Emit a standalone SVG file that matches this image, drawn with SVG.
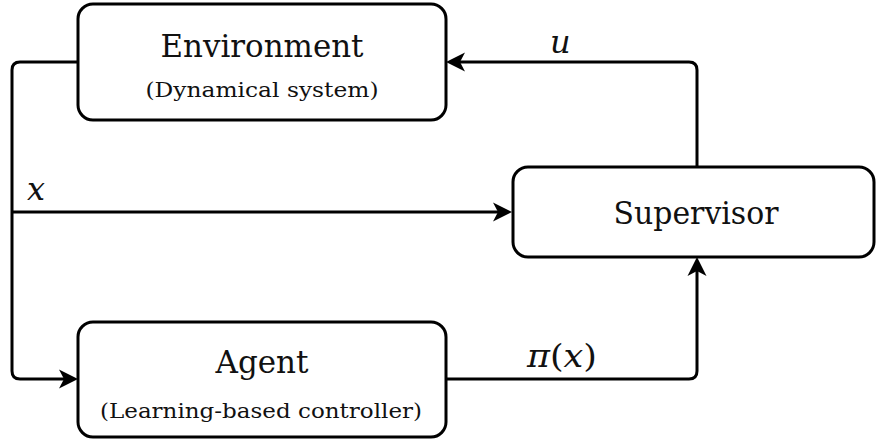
<svg xmlns="http://www.w3.org/2000/svg" width="876" height="441" viewBox="0 0 876 441">
  <style>
    text { font-family: 'DejaVu Serif', 'Liberation Serif', serif; fill: #111; }
    .title { font-size: 32px; text-anchor: middle; }
    .sub { font-size: 21px; text-anchor: middle; }
    .math { font-style: italic; font-size: 32px; }
    .box { fill: #fff; stroke: #000; stroke-width: 3; }
    .wire { fill: none; stroke: #000; stroke-width: 3; }
  </style>
  <defs>
    <marker id="tip" viewBox="-20 -12 26 24" refX="0" refY="0" markerWidth="26" markerHeight="24" markerUnits="userSpaceOnUse" orient="auto">
      <path d="M4,0 L-15,-9.5 L-10,0 L-15,9.5 Z" fill="#000"/>
    </marker>
  </defs>

  <g id="connectors">
    <path class="wire" d="M78,62 H20 Q12,62 12,70 V371 Q12,379 20,379 H74" marker-end="url(#tip)"/>
    <path class="wire" d="M12,212 H508" marker-end="url(#tip)"/>
    <path class="wire" d="M697,167 V70 Q697,62 689,62 H450" marker-end="url(#tip)"/>
    <path class="wire" d="M446,379 H689 Q697,379 697,371 V261" marker-end="url(#tip)"/>
    <text class="math" x="550" y="53">u</text>
    <text class="math" x="27" y="200">x</text>
    <text class="math" x="527" y="367" textLength="70" lengthAdjust="spacingAndGlyphs">π<tspan font-style="normal">(</tspan>x<tspan font-style="normal">)</tspan></text>
  </g>

  <g id="environment">
    <rect class="box" x="78" y="4" width="368" height="116" rx="15"/>
    <text class="title" x="262" y="57" textLength="203" lengthAdjust="spacingAndGlyphs">Environment</text>
    <text class="sub" x="262" y="97" textLength="233" lengthAdjust="spacingAndGlyphs">(Dynamical system)</text>
  </g>

  <g id="supervisor">
    <rect class="box" x="513" y="167" width="361" height="90" rx="15"/>
    <text class="title" x="696" y="224" textLength="165" lengthAdjust="spacingAndGlyphs">Supervisor</text>
  </g>

  <g id="agent">
    <rect class="box" x="78" y="322" width="368" height="115" rx="15"/>
    <text class="title" x="262" y="373" textLength="93" lengthAdjust="spacingAndGlyphs">Agent</text>
    <text class="sub" x="261" y="418" textLength="322" lengthAdjust="spacingAndGlyphs">(Learning-based controller)</text>
  </g>
</svg>
